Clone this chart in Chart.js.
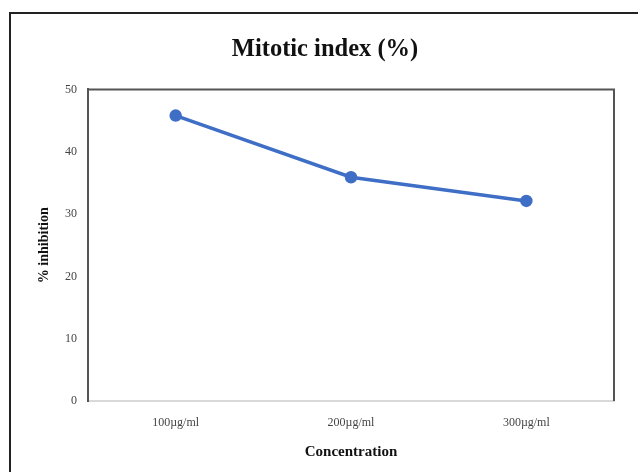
<!DOCTYPE html>
<html>
<head>
<meta charset="utf-8">
<script src="https://cdn.jsdelivr.net/npm/chart.js@4/dist/chart.umd.min.js"></script>
<style>
  html, body { margin: 0; padding: 0; background: #fff; }
  #wrap { width: 638px; height: 472px; position: relative; }
</style>
</head>
<body>
<div id="wrap"><canvas id="chart"></canvas></div>
<script>
const categories = ['100µg/ml', '200µg/ml', '300µg/ml']
const inhibition = [45.8, 35.9, 32.1]
const yTicks = [0, 10, 20, 30, 40, 50]

// outer frame and plot box, like the office-style chart
const framePlugin = {
  id: 'frame',
  beforeDraw(chart) {
    const ctx = chart.ctx
    ctx.save()
    ctx.fillStyle = '#fff'
    ctx.fillRect(0, 0, chart.width, chart.height)
    ctx.strokeStyle = '#222'
    ctx.lineWidth = 2
    ctx.strokeRect(10, 13, 700, 600)
    ctx.restore()
  },
  afterDatasetsDraw(chart) {
    const { left, top, right, bottom } = chart.chartArea
    const ctx = chart.ctx
    ctx.save()
    ctx.strokeStyle = '#555'
    ctx.lineWidth = 2
    ctx.beginPath()
    ctx.moveTo(left, bottom)
    ctx.lineTo(left, top)
    ctx.lineTo(right, top)
    ctx.lineTo(right, bottom)
    ctx.stroke()
    ctx.restore()
  }
}

new Chart(document.getElementById('chart'), {
  type: 'line',
  data: {
    labels: categories,
    datasets: [{
      label: 'Mitotic index (%)',
      data: inhibition,
      borderColor: '#3f6ec6',
      backgroundColor: '#3f6ec6',
      borderWidth: 3.5,
      pointRadius: 4.5,
      pointHoverRadius: 5,
      tension: 0
    }]
  },
  options: {
    responsive: true,
    maintainAspectRatio: false,
    animation: false,
    layout: { padding: { left: 36, right: 24, top: 0, bottom: 12 } },
    plugins: {
      legend: { display: false },
      tooltip: { enabled: false },
      title: {
        display: true,
        text: 'Mitotic index (%)',
        color: '#111',
        font: { family: 'Liberation Serif', size: 24.5, weight: 'bold' },
        padding: { top: 35, bottom: 25 }
      }
    },
    scales: {
      x: {
        offset: true,
        grid: { display: false, drawTicks: false },
        border: { color: '#d9d9d9', width: 2 },
        ticks: {
          color: '#444',
          padding: 16,
          font: { family: 'Liberation Serif', size: 12, lineHeight: 1 }
        },
        title: {
          display: true,
          text: 'Concentration',
          color: '#111',
          padding: { top: 0, bottom: 0 },
          font: { family: 'Liberation Serif', size: 15, weight: 'bold', lineHeight: 1 }
        }
      },
      y: {
        min: 0,
        max: 50,
        afterBuildTicks: (axis) => { axis.ticks = yTicks.map(v => ({ value: v })) },
        afterFit: (axis) => { axis.width = 52 },
        grid: { display: false, drawTicks: false },
        border: { color: '#555', width: 2 },
        ticks: {
          color: '#444',
          padding: 11,
          font: { family: 'Liberation Serif', size: 12 }
        },
        title: {
          display: true,
          text: '% inhibition',
          color: '#111',
          padding: { top: 0, bottom: 4 },
          font: { family: 'Liberation Serif', size: 14, weight: 'bold' }
        }
      }
    }
  },
  plugins: [framePlugin]
})
</script>
</body>
</html>
